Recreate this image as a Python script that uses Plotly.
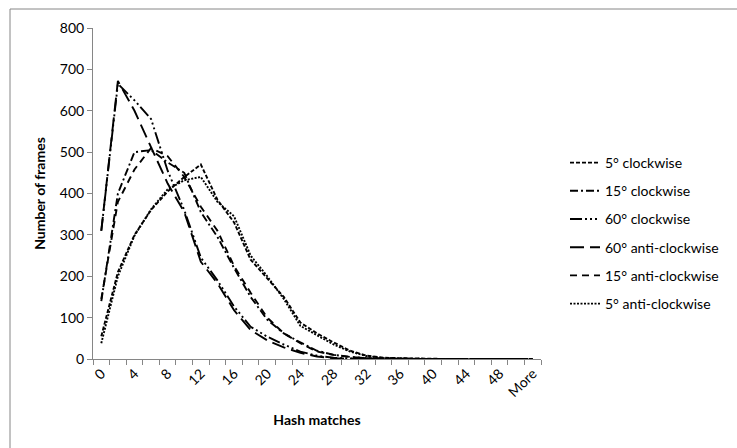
import plotly.graph_objects as go

categories = [str(v) for v in range(0, 51, 2)] + ["More"]
tick_labels = [c if i % 2 == 0 else "" for i, c in enumerate(categories)]

cw5 = [55, 210, 300, 360, 405, 440, 470, 385, 330, 240, 195, 150, 88, 62, 40, 20, 8, 3, 2, 1, 1, 0, 0, 0, 0, 0, 0]
cw15 = [140, 400, 500, 505, 475, 450, 355, 295, 220, 150, 95, 62, 40, 20, 10, 5, 2, 1, 0, 0, 0, 0, 0, 0, 0, 0, 0]
cw60 = [310, 665, 625, 580, 455, 360, 245, 190, 127, 78, 54, 35, 18, 8, 3, 1, 0, 0, 0, 0, 0, 0, 0, 0, 0, 0, 0]
acw60 = [310, 672, 600, 513, 424, 355, 235, 183, 118, 70, 45, 28, 15, 6, 2, 1, 0, 0, 0, 0, 0, 0, 0, 0, 0, 0, 0]
acw15 = [145, 380, 458, 510, 490, 440, 368, 310, 225, 160, 100, 62, 38, 18, 10, 5, 2, 1, 0, 0, 0, 0, 0, 0, 0, 0, 0]
acw5 = [38, 200, 298, 362, 410, 432, 440, 380, 345, 250, 200, 145, 80, 58, 35, 18, 7, 2, 1, 0, 0, 0, 0, 0, 0, 0, 0]

series_names = ["5° clockwise", "15° clockwise", "60° clockwise",
                "60° anti-clockwise", "15° anti-clockwise", "5° anti-clockwise"]
series_values = [cw5, cw15, cw60, acw60, acw15, acw5]
dashes = ["4px,2px", "8px,3px,2px,3px", "12px,3px,2px,3px,2px,3px,2px,3px",
          "14px,6px", "7px,5px", "2px,1.5px"]

FONT = "Lato, Carlito, Calibri, sans-serif"
FS = 14

fig = go.Figure()
for i, (name, vals, dsh) in enumerate(zip(series_names, series_values, dashes)):
    fig.add_trace(go.Scatter(
        x=categories, y=vals, name=name, mode="lines",
        line=dict(color="black", width=1.9, dash=dsh),
        legendgroup=f"g{i}",
    ))

L, R, T, B = 93, 541, 28, 359
W, H = 737, 448
pw, ph = R - L, B - T

def px(x):
    return (x - L) / pw

def py(y):
    return (B - y) / ph

fig.update_layout(
    width=W, height=H,
    margin=dict(l=L, r=W - R, t=T, b=H - B),
    plot_bgcolor="white", paper_bgcolor="white",
    font=dict(family=FONT, size=FS, color="#000000"),
    showlegend=True,
    legend=dict(
        x=px(565), y=py(147), xanchor="left", yanchor="top",
        font=dict(family=FONT, size=FS, color="#000000"),
        tracegroupgap=7, traceorder="grouped",
        bgcolor="rgba(0,0,0,0)",
    ),
    xaxis=dict(
        type="category",
        tickmode="array", tickvals=categories, ticktext=tick_labels,
        tickangle=-45, tickson="boundaries",
        ticks="outside", ticklen=5, tickcolor="#868686",
        showline=True, linecolor="#868686", linewidth=1,
        showgrid=False, zeroline=False,
        tickfont=dict(family=FONT, size=FS),
        title=dict(text="<b>Hash matches</b>", font=dict(family=FONT, size=FS), standoff=16),
        range=[-0.5, len(categories) - 0.5],
    ),
    yaxis=dict(
        range=[0, 800], dtick=100,
        ticks="outside", ticklen=5, tickcolor="#868686",
        showline=True, linecolor="#868686", linewidth=1,
        showgrid=False, zeroline=False,
        tickfont=dict(family=FONT, size=FS),
        title=dict(text="<b>Number of frames</b>", font=dict(family=FONT, size=FS), standoff=10),
    ),
    shapes=[dict(
        type="rect", xref="paper", yref="paper",
        x0=px(10), x1=px(745), y0=py(455), y1=py(9),
        line=dict(color="#868686", width=1), fillcolor="rgba(0,0,0,0)", layer="below",
    )],
)

fig.write_html("out.html")
